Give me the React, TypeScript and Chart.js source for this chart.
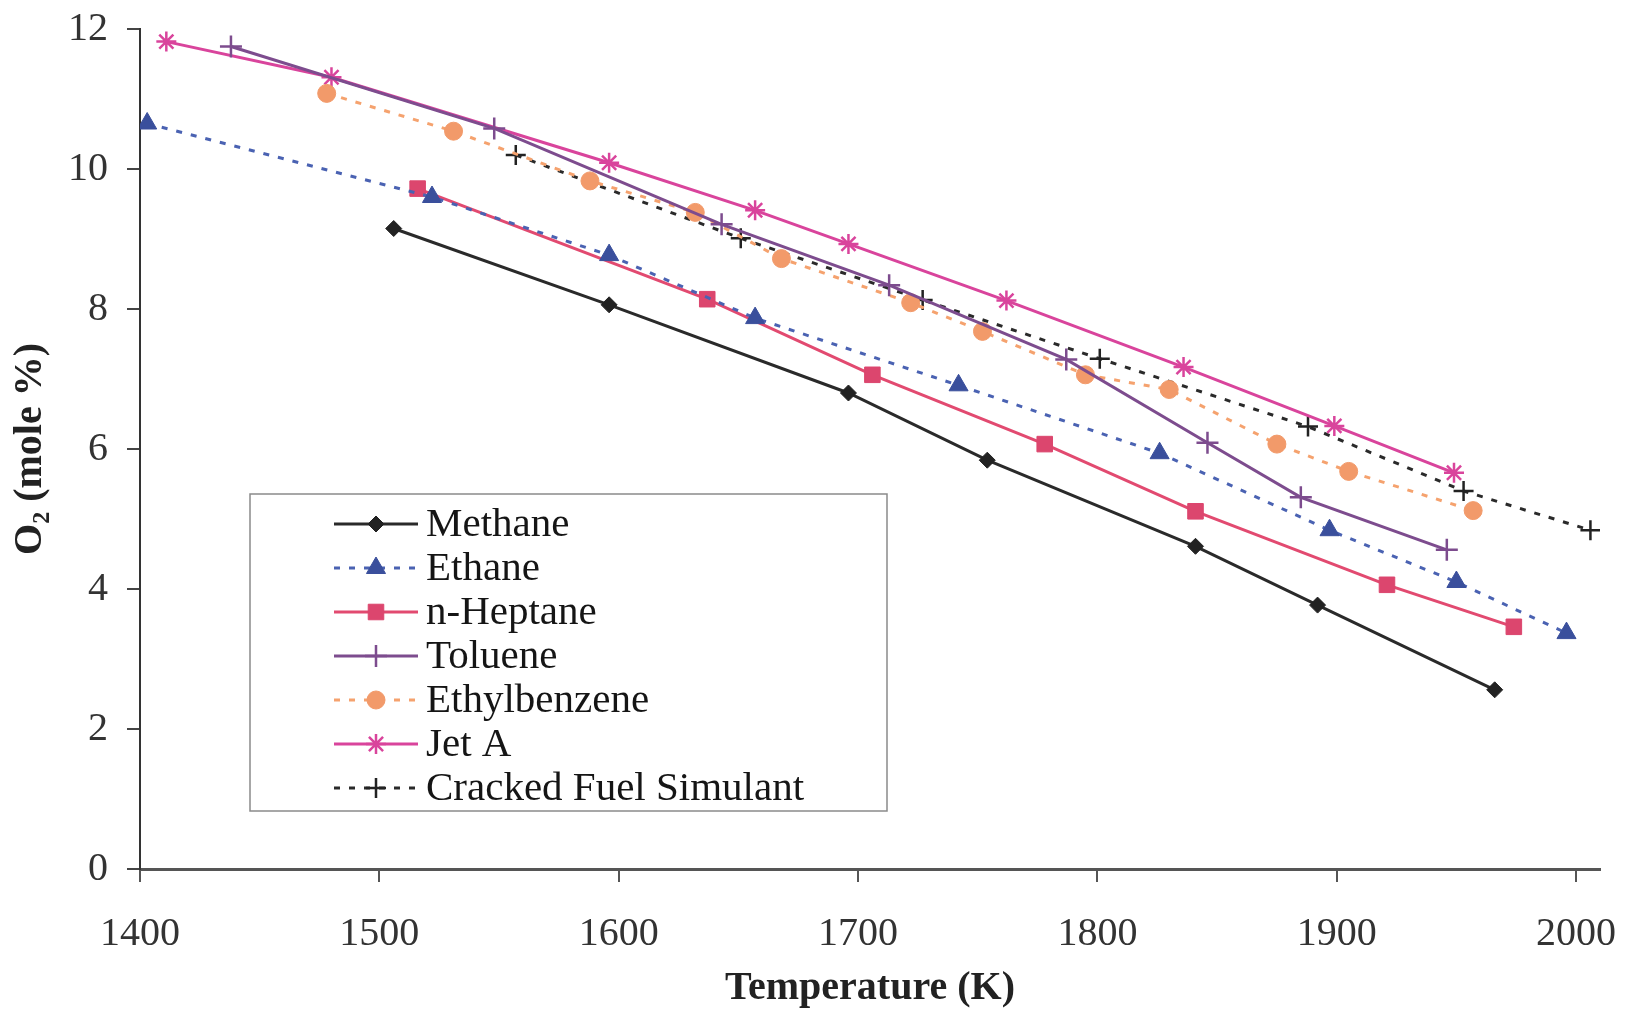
import { useEffect, useRef } from 'react';
import { Chart, registerables } from 'chart.js';
import { drawPoint } from 'chart.js/helpers';

Chart.register(...registerables);

// ---- data ----
const xTickValues = [1400, 1500, 1600, 1700, 1800, 1900, 2000];

const methaneT = [1506, 1596, 1696, 1754, 1841, 1892, 1966];
const methaneO2 = [9.15, 8.06, 6.8, 5.84, 4.61, 3.77, 2.56];

const ethaneT = [1403, 1522, 1596, 1657, 1742, 1826, 1897, 1950, 1996];
const ethaneO2 = [10.65, 9.6, 8.77, 7.87, 6.91, 5.94, 4.84, 4.1, 3.37];

const heptaneT = [1516, 1637, 1706, 1778, 1841, 1921, 1974];
const heptaneO2 = [9.72, 8.14, 7.06, 6.07, 5.11, 4.06, 3.46];

const tolueneT = [1438, 1548, 1643, 1713, 1787, 1846, 1885, 1946];
const tolueneO2 = [11.75, 10.58, 9.21, 8.34, 7.28, 6.09, 5.31, 4.56];

const ethylbenzeneT = [1478, 1531, 1588, 1632, 1668, 1722, 1752, 1795, 1830, 1875, 1905, 1957];
const ethylbenzeneO2 = [11.08, 10.54, 9.83, 9.38, 8.72, 8.09, 7.68, 7.06, 6.85, 6.07, 5.68, 5.12];

const jetAT = [1411, 1480, 1596, 1657, 1696, 1762, 1836, 1899, 1949];
const jetAO2 = [11.82, 11.31, 10.09, 9.41, 8.93, 8.12, 7.17, 6.33, 5.66];

const crackedT = [1557, 1651, 1727, 1801, 1888, 1953, 2006];
const crackedO2 = [10.2, 9.01, 8.13, 7.29, 6.32, 5.4, 4.84];

const seriesNames = ['Methane', 'Ethane', 'n-Heptane', 'Toluene', 'Ethylbenzene', 'Jet A', 'Cracked Fuel Simulant'];

const pts = (xs: number[], ys: number[]) => xs.map((x, i) => ({ x, y: ys[i] }));

const FONT = '"Liberation Serif", "Times New Roman", serif';

const legendPlugin = {
  id: 'boxLegend',
  afterDraw(chart: any) {
    const ctx = chart.ctx as CanvasRenderingContext2D;
    const bx = 250, by = 494, bw = 637, bh = 317;
    ctx.save();
    ctx.fillStyle = '#ffffff';
    ctx.fillRect(bx, by, bw, bh);
    ctx.strokeStyle = '#8a8a8a';
    ctx.lineWidth = 1.5;
    ctx.strokeRect(bx, by, bw, bh);
    chart.data.datasets.forEach((ds: any, i: number) => {
      const y = 524 + i * 44;
      ctx.save();
      ctx.strokeStyle = ds.borderColor;
      ctx.lineWidth = ds.borderWidth;
      ctx.setLineDash(ds.borderDash || []);
      ctx.beginPath();
      ctx.moveTo(334, y);
      ctx.lineTo(418, y);
      ctx.stroke();
      ctx.setLineDash([]);
      ctx.fillStyle = ds.pointBackgroundColor;
      ctx.strokeStyle = ds.pointBorderColor;
      ctx.lineWidth = ds.pointBorderWidth;
      drawPoint(ctx, { pointStyle: ds.pointStyle, rotation: 0, radius: ds.pointRadius, borderWidth: ds.pointBorderWidth } as any, 376, y);
      ctx.restore();
      ctx.fillStyle = '#151515';
      ctx.font = `41px ${FONT}`;
      ctx.textBaseline = 'middle';
      ctx.textAlign = 'left';
      ctx.fillText(ds.label, 426, y + 1);
    });
    ctx.restore();
  },
};

export default function App() {
  const ref = useRef<HTMLCanvasElement | null>(null);

  useEffect(() => {
    document.body.style.margin = '0';
    const canvas = ref.current;
    if (!canvas) return;

    const mk = (
      label: string,
      data: { x: number; y: number }[],
      line: string,
      marker: string,
      pointStyle: string,
      radius: number,
      dashed: boolean,
      pbw: number
    ) => ({
      label,
      data,
      borderColor: line,
      borderWidth: 3,
      borderDash: dashed ? [6, 9] : [],
      pointStyle,
      pointRadius: radius,
      pointHoverRadius: radius,
      pointBackgroundColor: marker,
      pointBorderColor: marker,
      pointBorderWidth: pbw,
      tension: 0,
      fill: false,
    });

    const chart = new Chart(canvas, {
      type: 'line',
      data: {
        datasets: [
          mk(seriesNames[0], pts(methaneT, methaneO2), '#2a2a2a', '#222222', 'rectRot', 8, false, 1),
          mk(seriesNames[1], pts(ethaneT, ethaneO2), '#4a62b2', '#3a4f9c', 'triangle', 11, true, 1),
          mk(seriesNames[2], pts(heptaneT, heptaneO2), '#e24a70', '#dc466e', 'rect', 11, false, 1),
          mk(seriesNames[3], pts(tolueneT, tolueneO2), '#7d4c8e', '#7d4c8e', 'cross', 11, false, 2.5),
          mk(seriesNames[4], pts(ethylbenzeneT, ethylbenzeneO2), '#f5a26e', '#f29a6a', 'circle', 9, true, 1),
          mk(seriesNames[5], pts(jetAT, jetAO2), '#d9449c', '#d9449c', 'star', 10, false, 2.5),
          mk(seriesNames[6], pts(crackedT, crackedO2), '#2a2a2a', '#222222', 'cross', 10, true, 2.5),
        ] as any,
      },
      options: {
        animation: false,
        responsive: false,
        devicePixelRatio: 1,
        layout: { padding: { top: 29, right: 25, bottom: 0, left: 0 } },
        plugins: { legend: { display: false }, tooltip: { enabled: false } },
        scales: {
          x: {
            type: 'linear',
            min: 1400,
            max: 2010,
            afterBuildTicks: (scale: any) => {
              scale.ticks = xTickValues.map((v) => ({ value: v }));
            },
            afterFit: (scale: any) => {
              scale.height = 142;
              scale.paddingLeft = 0;
              scale.paddingRight = 0;
            },
            grid: { drawOnChartArea: false, drawTicks: true, tickLength: 13, color: '#555', lineWidth: 2 },
            border: { display: true, color: '#555', width: 3 },
            ticks: {
              color: '#333',
              font: { family: FONT, size: 40 },
              padding: 28,
              maxRotation: 0,
              autoSkip: false,
              callback: (v: any) => String(v),
            },
            title: {
              display: true,
              text: 'Temperature (K)',
              color: '#222',
              font: { family: FONT, size: 40, weight: 'bold', lineHeight: 1.1 },
              padding: { top: 0, bottom: 0 },
            },
          },
          y: {
            type: 'linear',
            min: 0,
            max: 12,
            ticks: {
              stepSize: 2,
              color: '#333',
              font: { family: FONT, size: 40 },
              padding: 19,
            },
            afterFit: (scale: any) => {
              scale.width = 140;
              scale.paddingTop = 0;
              scale.paddingBottom = 0;
            },
            grid: { drawOnChartArea: false, drawTicks: true, tickLength: 13, color: '#444', lineWidth: 2 },
            border: { display: true, color: '#333', width: 2 },
            title: {
              display: true,
              text: 'O₂ (mole %)',
              color: '#222',
              font: { family: FONT, size: 40, weight: 'bold' },
              padding: { top: 7, bottom: 0 },
            },
          },
        },
      } as any,
      plugins: [legendPlugin],
    });

    return () => chart.destroy();
  }, []);

  return <canvas ref={ref} width={1625} height={1011} style={{ display: 'block', width: 1625, height: 1011 }} />;
}
